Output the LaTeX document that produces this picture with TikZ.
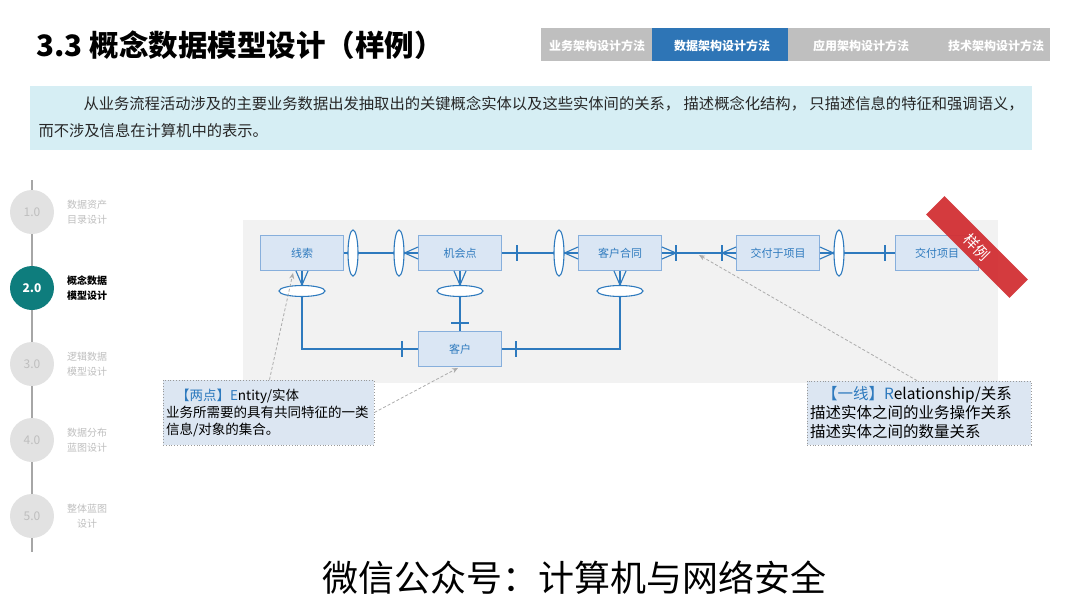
\documentclass[tikz,border=0pt]{standalone}
\usepackage{fontspec}
\setmainfont{Noto Sans CJK SC}
\usetikzlibrary{shapes.geometric,arrows.meta,calc}

\definecolor{erblue}{RGB}{46,122,190}
\definecolor{entfill}{RGB}{218,230,244}
\definecolor{entborder}{RGB}{135,175,220}
\definecolor{diagbg}{RGB}{242,242,242}
\definecolor{descbg}{RGB}{214,238,244}
\definecolor{tabgray}{RGB}{191,191,191}
\definecolor{tabblue}{RGB}{46,117,182}
\definecolor{teal}{RGB}{14,125,125}
\definecolor{stepgray}{RGB}{226,226,226}
\definecolor{numgray}{RGB}{190,190,190}
\definecolor{ribbonred}{RGB}{210,48,52}
\definecolor{calloutbg}{RGB}{220,230,242}

\begin{document}
\begin{tikzpicture}[
  x=1pt,y=-1pt,
  entity/.style={draw=entborder,fill=entfill,line width=0.9pt,minimum width=83pt,minimum height=35pt,text=erblue,font=\fontsize{11}{13}\selectfont},
  vopt/.style={ellipse,draw=erblue,fill=white,line width=1.1pt,minimum width=10pt,minimum height=46pt,inner sep=0pt},
  hopt/.style={ellipse,draw=erblue,fill=white,line width=1.1pt,minimum width=46pt,minimum height=11pt,inner sep=0pt},
  erline/.style={erblue,line width=1.4pt},
  crow/.style={erblue,line width=1.1pt},
  tabtxt/.style={text=white,font=\fontsize{12}{14}\selectfont\bfseries},
  stepoff/.style={circle,fill=stepgray,minimum size=44pt,inner sep=0pt,text=numgray,font=\fontsize{12}{14}\selectfont},
  stepon/.style={circle,fill=teal,minimum size=44pt,inner sep=0pt,text=white,font=\fontsize{12}{14}\selectfont\bfseries},
  steptxt/.style={align=center,text=numgray,font=\fontsize{10}{15.5}\selectfont},
  callout/.style={draw=gray!80,dotted,line width=0.8pt,fill=calloutbg,align=left,inner sep=3pt},
  pointer/.style={gray!65,line width=0.8pt,dash pattern=on 3pt off 2pt,-{Stealth[length=6pt,width=5pt]}},
  desctxt/.style={anchor=west,text=black!85,font=\fontsize{15.3}{18}\selectfont}
]
  \useasboundingbox (0,0) rectangle (1080,608);

  % title and tabs
  \node[anchor=west,font=\fontsize{29.5}{34}\selectfont\bfseries] (title) at (33,45) {3.3 概念数据模型设计（样例）};
  \fill[tabgray] (541,28) rectangle (1050,61);
  \fill[tabblue] (652,28) rectangle (788,61);
  \node[tabtxt] (tab1) at (597,46) {业务架构设计方法};
  \node[tabtxt] (tab2) at (722,46) {数据架构设计方法};
  \node[tabtxt] (tab3) at (861,46) {应用架构设计方法};
  \node[tabtxt] (tab4) at (996,46) {技术架构设计方法};

  % description
  \fill[descbg] (30,86) rectangle (1032,150);
  \node[desctxt] (desc1) at (80,104) {从业务流程活动涉及的主要业务数据出发抽取出的关键概念实体以及这些实体间的关系， 描述概念化结构， 只描述信息的特征和强调语义，};
  \node[desctxt] (desc2) at (35,131) {而不涉及信息在计算机中的表示。};

  % timeline
  \draw[gray!70,line width=1.5pt] (32,180) -- (32,552);
  \foreach \i/\y/\a/\b in {1/212/数据资产/目录设计,3/364/逻辑数据/模型设计,4/440/数据分布/蓝图设计,5/516/整体蓝图/设计}{
    \node[stepoff] (c\i) at (32,\y) {\i.0};
    \node[steptxt] (t\i) at (87,\y) {\a\\\b};
  }
  \node[stepon] (c2) at (32,288) {2.0};
  \node[steptxt,text=black,font=\fontsize{10}{15.5}\selectfont\bfseries] (t2) at (87,288) {概念数据\\模型设计};

  % diagram
  \fill[diagbg] (243,220) rectangle (998,383);

  \node[entity] (xs) at (302,253) {线索};
  \node[entity] (jhd) at (460,253) {机会点};
  \node[entity] (khht) at (620,253) {客户合同};
  \node[entity] (jfyxm) at (778,253) {交付于项目};
  \node[entity] (jfxm) at (937,253) {交付项目};
  \node[entity] (kh) at (460,349) {客户};

  \draw[erline] (xs.east) -- (jhd.west);
  \draw[erline] (jhd.east) -- (khht.west);
  \draw[erline] (khht.east) -- (jfyxm.west);
  \draw[erline] (jfyxm.east) -- (jfxm.west);
  \draw[erline] (302,291) |- (kh.west);
  \draw[erline] (460,291) -- (kh.north);
  \draw[erline] (620,291) |- (kh.east);

  \node[vopt] (o1) at (353,253) {};
  \node[vopt] (o2) at (399,253) {};
  \node[vopt] (o3) at (559,253) {};
  \node[vopt] (o4) at (839,253) {};
  \node[hopt] (h1) at (302,291) {};
  \node[hopt] (h2) at (460,291) {};
  \node[hopt] (h3) at (620,291) {};

  % crow's feet
  \foreach \d in {-6,0,6}{
    \draw[crow] (o2.east) -- ([yshift=\d pt]jhd.west);
    \draw[crow] (o3.east) -- ([yshift=\d pt]khht.west);
    \draw[crow] ([xshift=14pt]khht.east) -- ([yshift=\d pt]khht.east);
    \draw[crow] ([xshift=-14pt]jfyxm.west) -- ([yshift=\d pt]jfyxm.west);
    \draw[crow] (o4.west) -- ([yshift=\d pt]jfyxm.east);
    \draw[crow] (h1.north) -- ([xshift=\d pt]xs.south);
    \draw[crow] (h2.north) -- ([xshift=\d pt]jhd.south);
    \draw[crow] (h3.north) -- ([xshift=\d pt]khht.south);
  }

  % bars
  \draw[erline] ([xshift=15pt,yshift=8pt]jhd.east) -- ([xshift=15pt,yshift=-8pt]jhd.east);
  \draw[erline] ([xshift=14pt,yshift=8pt]khht.east) -- ([xshift=14pt,yshift=-8pt]khht.east);
  \draw[erline] ([xshift=-14pt,yshift=8pt]jfyxm.west) -- ([xshift=-14pt,yshift=-8pt]jfyxm.west);
  \draw[erline] ([xshift=-10pt,yshift=8pt]jfxm.west) -- ([xshift=-10pt,yshift=-8pt]jfxm.west);
  \draw[erline] ([xshift=-16pt,yshift=8pt]kh.west) -- ([xshift=-16pt,yshift=-8pt]kh.west);
  \draw[erline] ([xshift=14pt,yshift=8pt]kh.east) -- ([xshift=14pt,yshift=-8pt]kh.east);
  \draw[erline] ([xshift=-9pt,yshift=8pt]kh.north) -- ([xshift=9pt,yshift=8pt]kh.north);

  % sample ribbon
  \node[fill=ribbonred,fill opacity=0.95,text opacity=1,text=white,rotate=-45,minimum width=118pt,minimum height=26pt,inner sep=0pt,font=\fontsize{15}{17}\selectfont] (sample) at (977,247) {样例};

  % callouts
  \node[callout,minimum width=211pt,minimum height=65pt,text width=205pt,font=\fontsize{13.5}{17}\selectfont] (ent) at (268.5,412.5) {\hspace*{10pt}{\color{erblue}【两点】E}ntity/实体\\业务所需要的具有共同特征的一类\\信息/对象的集合。};
  \node[callout,minimum width=224pt,minimum height=64pt,text width=218pt,font=\fontsize{15.5}{19}\selectfont] (relbox) at (919,413) {\hspace*{12pt}{\color{erblue}【一线】R}elationship/关系\\描述实体之间的业务操作关系\\描述实体之间的数量关系};

  \coordinate (relpt) at ($(khht.east)!0.5!(jfyxm.west)$);
  \draw[pointer] ([xshift=1pt]ent.north) -- ([xshift=-9pt,yshift=-2pt]xs.south);
  \draw[pointer] (ent.east) -- ([xshift=-2pt,yshift=-1pt]kh.south);
  \draw[pointer] ([xshift=-2pt]relbox.north) -- ([yshift=-2pt]relpt);

  % footer
  \node[font=\fontsize{36}{40}\selectfont] (wx) at (574,578) {微信公众号：计算机与网络安全};
\end{tikzpicture}
\end{document}
